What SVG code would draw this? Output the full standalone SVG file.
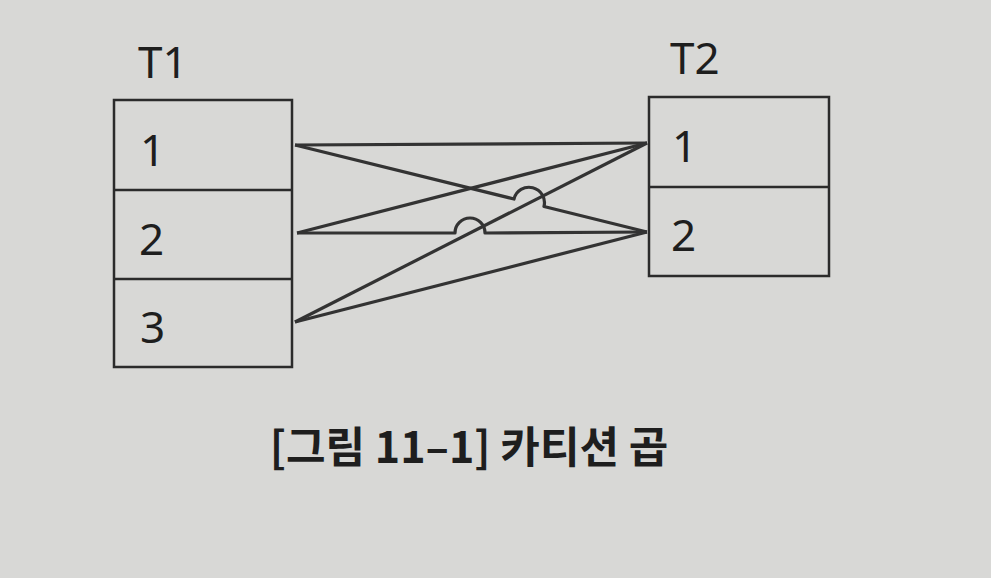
<svg xmlns="http://www.w3.org/2000/svg" width="991" height="578" viewBox="0 0 991 578">
<style>
.bg{fill:#d8d8d6}
.box{fill:none;stroke:#2b2b2b;stroke-width:2.5}
.conn{fill:none;stroke:#333;stroke-width:3.2;stroke-linejoin:round}
.lbl{font-family:"Noto Sans","Liberation Sans",sans-serif;font-size:44px;fill:#1e1e1e}
.cap{font-family:"Noto Sans CJK KR","Noto Sans",sans-serif;font-size:43px;font-weight:700;fill:#1e1e1e}
</style>
<rect class="bg" x="0" y="0" width="991" height="578"/>
<g id="T1">
<text class="lbl" x="138" y="78">T1</text>
<rect class="box" x="114" y="100" width="178" height="267"/>
<line class="box" x1="114" y1="190" x2="292" y2="190"/>
<line class="box" x1="114" y1="279" x2="292" y2="279"/>
<text class="lbl" x="140" y="166">1</text>
<text class="lbl" x="139" y="255">2</text>
<text class="lbl" x="140" y="343">3</text>
</g>
<g id="T2">
<text class="lbl" x="670" y="74">T2</text>
<rect class="box" x="649" y="97" width="180" height="179"/>
<line class="box" x1="649" y1="187" x2="829" y2="187"/>
<text class="lbl" x="672" y="162">1</text>
<text class="lbl" x="671" y="251">2</text>
</g>
<g id="connectors">
<path class="conn" d="M295,145 L647,143"/>
<path class="conn" d="M295,145 L514,199 A15.4,15.4 0 0 1 544,206.5 L647,232"/>
<path class="conn" d="M297,233 L647,143"/>
<path class="conn" d="M297,233 L455,233 A15,15 0 0 1 485,233 L647,232"/>
<path class="conn" d="M295,322 L647,143"/>
<path class="conn" d="M295,322 L647,232"/>
</g>
<g id="caption">
<text class="cap" x="469" y="463" text-anchor="middle">[그림 11–1] 카티션 곱</text>
</g>
</svg>
